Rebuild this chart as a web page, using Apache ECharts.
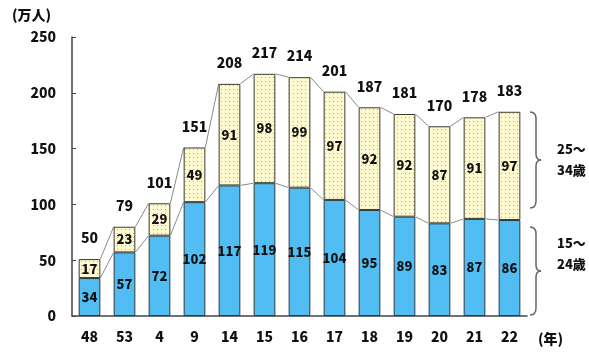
<!DOCTYPE html>
<html><head><meta charset="utf-8">
<script src="https://cdn.jsdelivr.net/npm/echarts@6/dist/echarts.min.js"></script>
<style>html,body{margin:0;padding:0;background:#fff}#c{width:589px;height:355px}</style>
</head><body><div id="c"></div>
<script>
const categories = ['48','53','4','9','14','15','16','17','18','19','20','21','22'];
const young = [34,57,72,102,117,119,115,104,95,89,83,87,86];   // 15~24歳
const older = [17,23,29,49,91,98,99,97,92,92,87,91,97];        // 25~34歳
const totals = [50,79,101,151,208,217,214,201,187,181,170,178,183];
const yTicks = [0,50,100,150,200,250];

const FONT = '"Noto Sans CJK JP", "Liberation Sans", sans-serif';
const W = 900;
const BAR_FRAC = 0.62;

// dotted pattern
const pc = document.createElement('canvas');
pc.width = 4; pc.height = 4;
const g = pc.getContext('2d');
g.fillStyle = '#fffad0'; g.fillRect(0,0,4,4);
g.fillStyle = '#b9a878'; g.fillRect(1,1,1,1);

const stackTop = young.map((v,i)=>v+older[i]);
const topLinks = [], midLinks = [];
for (let i=0;i<categories.length-1;i++){
  topLinks.push([i, stackTop[i], stackTop[i+1]]);
  midLinks.push([i, young[i], young[i+1]]);
}
function linkRender(params, api){
  const i = api.value(0);
  const p1 = api.coord([i, api.value(1)]);
  const p2 = api.coord([i+1, api.value(2)]);
  const hw = api.size([1,0])[0]*BAR_FRAC/2;
  return {type:'line', shape:{x1:p1[0]+hw, y1:p1[1], x2:p2[0]-hw, y2:p2[1]},
    style:{stroke:'#8a8a8a', lineWidth:1}};
}
function brace(x0, y0, y1){
  const ym = (y0+y1)/2, st = {stroke:'#666', lineWidth:1.5, fill:null};
  return [
    {type:'bezierCurve', shape:{x1:x0,y1:y0,cpx1:x0+6,cpy1:y0,x2:x0+6,y2:y0+7}, style:st},
    {type:'line', shape:{x1:x0+6,y1:y0+7,x2:x0+6,y2:ym-6}, style:st},
    {type:'bezierCurve', shape:{x1:x0+6,y1:ym-6,cpx1:x0+6,cpy1:ym,x2:x0+11,y2:ym}, style:st},
    {type:'bezierCurve', shape:{x1:x0+11,y1:ym,cpx1:x0+6,cpy1:ym,x2:x0+6,y2:ym+6}, style:st},
    {type:'line', shape:{x1:x0+6,y1:ym+6,x2:x0+6,y2:y1-7}, style:st},
    {type:'bezierCurve', shape:{x1:x0+6,y1:y1-7,cpx1:x0+6,cpy1:y1,x2:x0,y2:y1}, style:st}
  ];
}
const txt = (x,y,s,size)=>({type:'text', left:x, top:y,
  style:{text:s, fill:'#111', font:W+' '+size+'px '+FONT}});

const chart = echarts.init(document.getElementById('c'), null, {renderer:'canvas'});
chart.setOption({
  animation:false,
  textStyle:{fontFamily:FONT},
  grid:{left:72, right:62, top:37, bottom:39},
  xAxis:{type:'category', data:categories,
    axisLine:{lineStyle:{color:'#444', width:1.5}},
    axisTick:{inside:true, length:3, lineStyle:{color:'#666'}},
    axisLabel:{color:'#111', fontWeight:W, fontSize:14, margin:14, fontFamily:FONT}},
  yAxis:{type:'value', min:0, max:250, interval:50,
    axisLine:{show:true, lineStyle:{color:'#444', width:1.5}},
    axisTick:{show:true, inside:true, length:4, lineStyle:{color:'#444'}},
    splitLine:{show:false},
    axisLabel:{color:'#111', fontWeight:W, fontSize:14, margin:16, fontFamily:FONT,
      formatter:v=>yTicks.includes(v)?String(v):''}},
  series:[
    {name:'15～24歳', type:'bar', stack:'a', data:young, barWidth:(BAR_FRAC*100)+'%',
     itemStyle:{color:'#52bdf2', borderColor:'#2f3a40', borderWidth:1},
     label:{show:true, position:'inside', color:'#111', fontWeight:W, fontSize:13, fontFamily:FONT}},
    {name:'25～34歳', type:'bar', stack:'a', data:older, barWidth:(BAR_FRAC*100)+'%',
     itemStyle:{color:{image:pc, repeat:'repeat'}, borderColor:'#3a3a30', borderWidth:1},
     label:{show:true, position:'inside', color:'#111', fontWeight:W, fontSize:13, fontFamily:FONT}},
    {type:'bar', stack:'a', data:totals.map(()=>0), barWidth:(BAR_FRAC*100)+'%', silent:true,
     itemStyle:{color:'transparent'},
     label:{show:true, position:'top', distance:14, color:'#111', fontWeight:W, fontSize:14, fontFamily:FONT,
       formatter:p=>String(totals[p.dataIndex])}},
    {type:'custom', renderItem:linkRender, data:topLinks, z:1, silent:true},
    {type:'custom', renderItem:linkRender, data:midLinks, z:1, silent:true}
  ],
  graphic:[
    txt(12, 8, '(万人)', 14),
    txt(538, 332, '(年)', 14),
    txt(557, 143, '25～', 13),
    txt(557, 164, '34歳', 13),
    txt(557, 237, '15～', 13),
    txt(557, 258, '24歳', 13),
    ...brace(530, 112, 208),
    ...brace(530, 227, 315)
  ]
});
</script></body></html>
